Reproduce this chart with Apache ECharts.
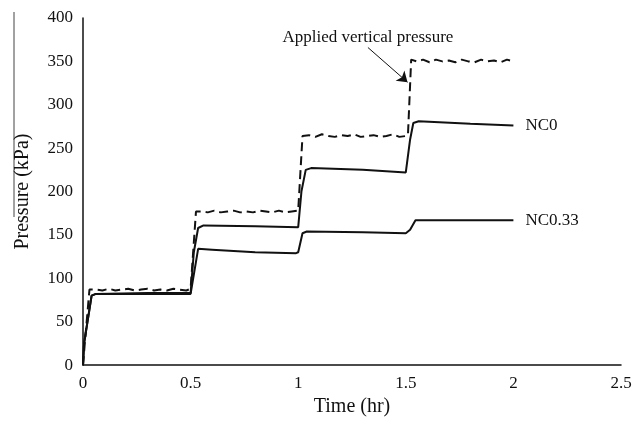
<!DOCTYPE html>
<html>
<head>
<meta charset="utf-8">
<script src="https://cdn.jsdelivr.net/npm/echarts@6/dist/echarts.min.js"></script>
<style>
  html, body { margin: 0; padding: 0; background: #fff; }
  #chart { width: 643px; height: 422px; }
</style>
</head>
<body>
<div id="chart"></div>
<script>
// Time (hr) / pressure (kPa) readings for each trace
const appliedTime = [0, 0.01, 0.03, 0.06, 0.09, 0.12, 0.15, 0.18, 0.21, 0.24, 0.27, 0.30, 0.33, 0.36, 0.39, 0.42, 0.45, 0.48, 0.50,
  0.525, 0.55, 0.58, 0.61, 0.64, 0.67, 0.70, 0.73, 0.76, 0.79, 0.82, 0.85, 0.88, 0.91, 0.94, 0.97, 1.00,
  1.02, 1.05, 1.08, 1.11, 1.14, 1.17, 1.20, 1.23, 1.26, 1.29, 1.32, 1.35, 1.38, 1.41, 1.44, 1.47, 1.50, 1.51,
  1.525, 1.55, 1.58, 1.61, 1.64, 1.67, 1.70, 1.73, 1.76, 1.79, 1.82, 1.85, 1.88, 1.91, 1.94, 1.97, 2.00];
const appliedValues = [0, 30, 87, 87, 86, 88, 86, 87, 88, 86, 87, 88, 86, 87, 86, 88, 87, 86, 88,
  177, 177, 176, 178, 176, 177, 178, 176, 177, 176, 178, 177, 176, 178, 176, 177, 178,
  264, 265, 263, 266, 264, 263, 265, 264, 266, 263, 264, 265, 263, 264, 266, 263, 264, 265,
  352, 350, 352, 349, 352, 350, 351, 349, 352, 350, 349, 352, 350, 351, 349, 352, 350];

const nc0Time = [0, 0.005, 0.04, 0.06, 0.30, 0.50, 0.515, 0.535, 0.56, 0.80, 1.00, 1.015, 1.035, 1.06, 1.30, 1.50, 1.52, 1.535, 1.56, 1.80, 2.00];
const nc0Values = [0, 25, 80, 82, 83, 83, 130, 158, 161, 160, 159, 200, 225, 227, 225, 222, 260, 279, 281, 278, 276];

const nc033Time = [0, 0.005, 0.04, 0.06, 0.30, 0.50, 0.535, 0.60, 0.80, 0.99, 1.00, 1.02, 1.04, 1.30, 1.50, 1.52, 1.545, 2.00];
const nc033Values = [0, 25, 80, 82, 82, 82, 134, 133, 130, 129, 130, 152, 154, 153, 152, 156, 167, 167];

const xTicks = ['0', '0.5', '1', '1.5', '2', '2.5'];
const annotationText = 'Applied vertical pressure';
const arrowFrom = [1.324, 366];
const arrowTo = [1.508, 326];
const annotationAt = [1.324, 378];

const pairs = (xs, ys) => xs.map((x, i) => [x, ys[i]]);

const FONT = '"Liberation Serif", "Times New Roman", serif';
const INK = '#111';

const chart = echarts.init(document.getElementById('chart'), null, { renderer: 'canvas' });

const option = {
  animation: false,
  backgroundColor: '#fff',
  grid: { left: 83, right: 22, top: 18, bottom: 54, containLabel: false },
  xAxis: {
    type: 'value', min: 0, max: 2.5, interval: 0.5,
    name: 'Time (hr)', nameLocation: 'middle', nameGap: 30,
    nameTextStyle: { fontFamily: FONT, fontSize: 20, color: INK },
    axisLine: { show: true, lineStyle: { color: INK, width: 1.5 } },
    axisTick: { show: false },
    splitLine: { show: false },
    axisLabel: {
      fontFamily: FONT, fontSize: 17, color: INK, margin: 10,
      formatter: (v) => xTicks[Math.round(v / 0.5)]
    }
  },
  yAxis: {
    type: 'value', min: 0, max: 400, interval: 50,
    name: 'Pressure (kPa)', nameLocation: 'middle', nameGap: 50, nameRotate: 90,
    nameTextStyle: { fontFamily: FONT, fontSize: 20, color: INK },
    axisLine: { show: true, lineStyle: { color: INK, width: 1.5 } },
    axisTick: { show: false },
    splitLine: { show: false },
    axisLabel: { fontFamily: FONT, fontSize: 17, color: INK, margin: 10 }
  },
  series: [
    {
      name: 'Applied vertical pressure', type: 'line', data: pairs(appliedTime, appliedValues),
      showSymbol: false, symbol: 'none',
      lineStyle: { color: INK, width: 2, type: [9, 5] },
      markLine: {
        silent: true, symbol: ['none', 'arrow'], symbolSize: 10,
        lineStyle: { color: INK, width: 1, type: 'solid' },
        label: { show: false },
        data: [[{ coord: arrowFrom }, { coord: arrowTo }]]
      },
      z: 3
    },
    {
      name: 'NC0', type: 'line', data: pairs(nc0Time, nc0Values),
      showSymbol: false, symbol: 'none',
      lineStyle: { color: INK, width: 2 },
      endLabel: { show: true, formatter: 'NC0', fontFamily: FONT, fontSize: 17, color: INK, distance: 12 }
    },
    {
      name: 'NC0.33', type: 'line', data: pairs(nc033Time, nc033Values),
      showSymbol: false, symbol: 'none',
      lineStyle: { color: INK, width: 2 },
      endLabel: { show: true, formatter: 'NC0.33', fontFamily: FONT, fontSize: 17, color: INK, distance: 12 }
    }
  ]
};

chart.setOption(option);

// Annotation text placed through the axis scales
const textPos = chart.convertToPixel({ gridIndex: 0 }, annotationAt);
chart.setOption({
  graphic: [
    {
      type: 'text', x: textPos[0], y: textPos[1],
      style: { text: annotationText, font: '17px ' + FONT, fill: INK, align: 'center', verticalAlign: 'middle' }
    },
    {
      type: 'line', shape: { x1: 14, y1: 12, x2: 14, y2: 217 },
      style: { stroke: '#444', lineWidth: 1 }
    }
  ]
});
</script>
</body>
</html>
